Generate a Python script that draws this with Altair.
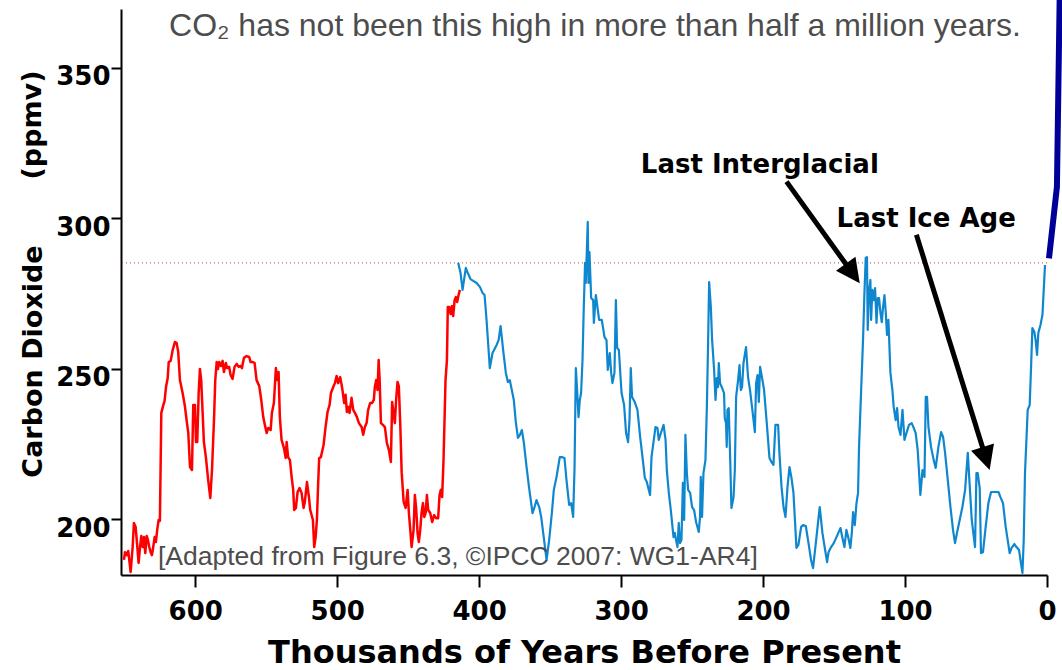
import altair as alt
import pandas as pd
import numpy as np

# ---- EPICA Dome C record (older part), thousands of years BP / ppmv ----
red_kyr = [650.2, 649.5, 648.3, 647.2, 645.5, 644.1, 643.2, 642.0, 640.8, 639.9, 638.9, 638.0,
           637.0, 636.1, 635.2, 634.2, 633.3, 632.4, 631.4, 630.5, 629.6, 628.6, 627.7, 626.8,
           625.8, 624.9, 623.9, 622.5, 621.6, 620.6, 619.4, 618.7, 617.3, 615.9, 614.3, 613.1,
           612.0, 610.8, 608.9, 607.3, 606.1, 604.9, 603.7, 602.3, 601.4, 600.2, 599.5, 598.6,
           597.6, 596.7, 595.8, 594.8, 593.9, 592.5, 590.9, 589.4, 588.2, 586.8, 585.9, 584.9,
           584.0, 583.1, 581.9, 580.7, 579.8, 578.4, 577.5, 576.1, 575.1, 573.7, 572.3, 570.8,
           569.4, 568.0, 567.1, 565.7, 563.8, 562.0, 561.0, 559.6, 558.2, 556.8, 554.9, 553.5,
           552.1, 551.1, 549.7, 548.6, 546.9, 546.0, 544.6, 543.2, 542.3, 541.3, 540.4, 539.2,
           537.5, 536.3, 535.6, 534.6, 533.3, 532.1, 531.0, 530.3, 529.1, 527.9, 526.5, 525.1,
           523.7, 522.8, 521.3, 519.9, 519.0, 517.1, 516.2, 515.2, 514.3, 513.4, 512.7, 511.5,
           509.6, 508.2, 506.8, 505.4, 504.4, 502.8, 501.6, 500.4, 499.3, 497.9, 496.5, 495.1,
           494.1, 493.2, 492.3, 491.3, 489.9, 488.7, 487.5, 486.1, 484.7, 482.8, 481.7, 480.5,
           479.3, 478.2, 476.8, 475.4, 474.2, 473.5, 472.5, 471.6, 470.8, 470.1, 469.2, 467.8,
           466.4, 465.0, 463.6, 462.2, 461.3, 460.3, 459.4, 458.5, 457.5, 456.6, 455.6, 454.6,
           453.2, 451.8, 450.4, 449.5, 448.6, 447.6, 446.2, 445.3, 444.4, 443.4, 442.5, 441.5,
           440.6, 439.6, 438.7, 437.7, 436.8, 435.9, 434.5, 433.1, 431.7, 430.3, 428.9, 427.9,
           427.0, 426.1, 425.1, 423.7, 422.7, 422.1, 421.1, 420.1, 419.2, 418.3, 417.3, 416.4,
           415.5, 414.5, 413.6]
red_ppm = [186.4, 189.0, 188.0, 189.4, 182.4, 190.7, 198.7, 197.4, 190.7, 185.4, 190.7, 194.4,
           190.7, 194.0, 188.7, 194.4, 193.0, 190.7, 189.0, 188.0, 190.7, 194.0, 192.4, 196.4,
           199.7, 199.4, 235.3, 237.9, 239.3, 243.9, 246.9, 252.2, 252.6, 256.2, 258.9, 258.5,
           255.6, 246.2, 241.9, 237.6, 232.9, 228.6, 217.3, 216.3, 237.9, 237.9, 225.6, 225.6,
           241.9, 249.9, 246.2, 235.3, 225.6, 220.6, 213.0, 207.0, 216.3, 232.9, 246.2, 252.2,
           249.9, 252.2, 250.9, 252.6, 248.9, 251.9, 250.2, 250.6, 247.9, 246.6, 250.6, 251.6,
           250.6, 250.9, 250.2, 253.6, 254.2, 253.9, 252.2, 252.2, 251.9, 246.2, 244.2, 239.6,
           233.9, 231.6, 228.6, 230.3, 229.6, 235.3, 238.6, 250.2, 246.2, 248.9, 233.9, 226.3,
           223.6, 220.3, 225.6, 220.6, 219.6, 214.0, 209.7, 203.0, 203.7, 209.0, 210.3, 208.7,
           203.7, 205.7, 212.3, 207.3, 203.0, 199.7, 190.7, 194.0, 199.7, 212.0, 220.3, 220.6,
           224.6, 230.6, 235.6, 237.9, 241.9, 243.9, 245.2, 247.6, 245.2, 247.2, 243.6, 238.6,
           241.3, 235.6, 237.3, 235.3, 240.3, 236.3, 235.3, 233.9, 231.9, 230.6, 228.0, 230.6,
           231.9, 236.3, 238.6, 238.6, 239.6, 243.9, 246.2, 242.9, 252.9, 246.2, 231.9, 231.3,
           230.6, 225.3, 223.0, 219.0, 238.9, 235.3, 231.9, 239.6, 245.6, 244.2, 231.9, 215.6,
           205.7, 203.7, 209.7, 202.0, 197.0, 190.7, 196.4, 208.0, 203.7, 195.4, 192.4, 196.4,
           202.0, 205.3, 200.7, 202.0, 208.0, 203.0, 202.0, 199.0, 201.3, 200.3, 200.3, 208.0,
           209.7, 207.3, 219.6, 246.2, 252.9, 270.5, 270.5, 268.2, 270.8, 267.5, 272.8, 273.8,
           272.2, 274.5, 276.2]

# ---- Vostok record, thousands of years BP / ppmv ----
blue_kyr = [414.8, 413.1, 411.7, 409.4, 408.0, 406.1, 404.2, 401.8, 399.5, 397.6, 396.2, 394.8,
            392.5, 390.6, 387.7, 386.3, 384.9, 383.1, 381.2, 379.8, 378.4, 377.0, 375.6, 374.2,
            372.7, 371.3, 369.9, 368.5, 366.6, 364.8, 362.4, 361.0, 359.6, 357.7, 356.3, 354.9,
            352.5, 350.7, 348.8, 347.4, 345.5, 343.2, 341.8, 339.9, 338.5, 336.6, 335.2, 333.8,
            332.8, 331.9, 331.0, 330.0, 329.1, 328.2, 327.2, 326.3, 325.4, 324.9, 323.5, 323.0,
            322.3, 321.1, 319.7, 319.2, 317.8, 315.5, 313.6, 311.7, 310.3, 309.4, 308.0, 307.0,
            306.1, 304.7, 303.7, 302.8, 301.6, 299.7, 297.9, 296.5, 295.1, 294.1, 293.2, 292.3,
            290.4, 288.5, 286.6, 284.7, 283.3, 281.9, 280.5, 279.6, 278.6, 277.2, 275.8, 274.4,
            273.5, 272.0, 270.1, 268.7, 267.8, 266.4, 265.0, 264.1, 263.1, 262.2, 261.3, 260.3,
            259.4, 258.5, 257.5, 256.5, 255.6, 254.7, 253.7, 252.8, 251.4, 250.0, 248.6, 247.2,
            245.3, 244.4, 243.9, 243.0, 242.0, 240.6, 239.6, 238.7, 238.0, 236.8, 235.9, 234.5,
            233.5, 232.6, 231.7, 231.2, 230.3, 228.9, 227.5, 227.0, 226.1, 225.6, 225.1, 224.2,
            223.2, 222.3, 220.8, 219.9, 219.0, 217.6, 216.6, 215.7, 214.8, 213.8, 212.0, 210.6,
            209.2, 207.3, 205.8, 204.9, 203.9, 203.0, 202.1, 200.7, 199.3, 197.4, 195.5, 194.1,
            192.7, 191.3, 189.4, 188.5, 187.0, 185.6, 184.2, 182.8, 181.4, 180.0, 178.6, 176.5,
            175.1, 173.2, 171.8, 169.9, 168.0, 166.2, 164.8, 162.4, 160.1, 158.2, 156.3, 154.9,
            153.9, 152.1, 150.2, 148.3, 145.5, 144.1, 142.7, 141.3, 139.9, 138.5, 137.5, 136.6,
            135.4, 134.2, 133.1, 132.4, 131.0, 129.6, 128.6, 127.7, 126.8, 126.3, 125.4, 124.4,
            123.9, 123.0, 122.0, 121.1, 120.1, 119.2, 118.3, 117.3, 116.4, 115.5, 114.5, 113.6,
            112.7, 111.7, 111.3, 110.3, 108.9, 108.0, 106.6, 105.6, 104.6, 103.2, 101.8, 100.4,
            99.0, 97.2, 95.3, 93.9, 92.5, 91.1, 90.1, 89.2, 87.7, 86.3, 85.4, 84.5,
            83.5, 81.7, 79.8, 78.4, 76.5, 74.6, 73.2, 71.8, 69.9, 68.0, 66.2, 64.8,
            63.4, 61.5, 59.6, 57.7, 55.8, 54.4, 53.0, 50.7, 49.7, 48.8, 47.4, 46.5,
            45.1, 43.2, 41.3, 39.4, 37.0, 34.2, 32.8, 31.0, 29.1, 26.3, 24.9, 23.0,
            21.5, 19.7, 18.7, 17.3, 16.4, 15.5, 13.6, 12.2, 11.3, 10.3, 8.9, 8.0,
            7.0, 6.1, 4.6, 3.2, 2.3, 1.4]
blue_ppm = [285.2, 281.8, 276.2, 283.5, 281.8, 279.8, 279.2, 278.5, 277.2, 275.2, 274.5, 266.2,
            250.2, 255.2, 257.9, 259.5, 264.2, 256.2, 248.6, 245.6, 246.2, 242.9, 239.6, 232.3,
            227.0, 228.0, 229.6, 225.3, 217.3, 210.3, 202.0, 204.0, 206.3, 204.0, 200.7, 195.4,
            186.4, 193.0, 202.0, 209.7, 214.0, 220.6, 220.6, 220.3, 213.0, 204.7, 205.3, 200.7,
            217.3, 250.2, 242.9, 233.9, 239.6, 241.9, 252.9, 270.5, 285.2, 278.5, 298.8, 278.5,
            288.8, 273.5, 272.8, 265.2, 274.5, 266.2, 266.2, 260.5, 259.5, 249.6, 255.2, 248.6,
            245.2, 248.6, 272.8, 256.9, 256.2, 241.9, 237.9, 228.6, 225.6, 232.9, 250.2, 240.6,
            238.9, 236.3, 227.3, 219.6, 213.7, 212.3, 209.7, 208.0, 220.6, 225.6, 230.6, 230.3,
            226.3, 228.6, 231.3, 226.3, 216.3, 208.7, 203.0, 198.7, 194.0, 195.4, 193.0, 190.7,
            198.7, 192.0, 193.0, 212.0, 199.7, 228.0, 215.3, 209.7, 208.7, 204.0, 203.0, 199.0,
            195.7, 200.7, 214.0, 200.7, 215.3, 219.6, 237.3, 259.5, 278.8, 270.5, 259.5, 249.6,
            239.6, 246.9, 243.9, 251.9, 245.2, 243.6, 241.9, 233.6, 231.9, 224.0, 236.3, 236.9,
            220.6, 203.7, 207.3, 216.3, 240.6, 246.2, 251.2, 242.9, 243.9, 251.9, 257.2, 247.2,
            242.9, 235.3, 228.9, 245.2, 247.9, 238.9, 250.6, 246.9, 242.9, 231.9, 220.3, 219.0,
            218.0, 231.3, 231.3, 222.0, 210.7, 204.0, 200.7, 210.7, 217.3, 213.7, 208.7, 190.4,
            191.4, 197.4, 198.0, 197.7, 192.0, 186.4, 183.7, 194.0, 204.0, 195.4, 189.7, 185.7,
            189.0, 190.7, 192.0, 194.0, 197.0, 193.7, 190.7, 196.4, 193.7, 190.4, 195.4, 202.3,
            198.0, 205.3, 208.7, 224.0, 241.9, 259.5, 275.2, 286.8, 287.1, 262.9, 275.5, 279.5,
            266.2, 276.2, 272.8, 276.8, 265.2, 273.5, 273.5, 268.5, 265.5, 270.5, 274.5, 268.9,
            261.2, 266.2, 261.2, 248.6, 242.9, 237.3, 232.9, 236.9, 230.6, 228.0, 236.3, 226.3,
            228.6, 231.3, 231.9, 230.3, 228.6, 223.0, 215.3, 208.0, 216.3, 214.0, 240.6, 240.6,
            230.6, 224.0, 219.6, 217.0, 224.0, 228.9, 227.3, 222.0, 213.0, 204.0, 196.4, 192.0,
            195.4, 199.7, 204.0, 209.7, 222.0, 210.7, 199.7, 190.7, 215.3, 215.3, 210.3, 188.7,
            189.0, 197.4, 205.3, 209.0, 209.0, 209.0, 207.3, 205.3, 197.4, 188.7, 190.4, 191.7,
            190.7, 189.7, 186.4, 182.1, 193.0, 215.3, 236.3, 237.9, 249.6, 263.5, 262.2, 259.5,
            254.6, 261.9, 264.5, 267.9, 276.2, 284.5]

# ---- Modern instrumental rise (runs past 0 into the present) ----
modern_kyr = [-1.4, -7.0, -8.9]
modern_ppm = [286.7, 310.5, 372.6]

# pre-industrial reference level
ref_ppm = [285.2]

# ---- annotations ----
note_text = ["Last Interglacial", "Last Ice Age"]
note_kyr = [202.3, 85.1]
note_ppm = [317.7, 299.8]

arrow_tail_kyr = [183.5, 92.0]
arrow_tail_ppm = [312.2, 294.5]
arrow_tip_kyr = [131.9, 40.4]
arrow_tip_ppm = [278.4, 216.3]

title_text = "CO\u2082 has not been this high in more than half a million years."
source_text = "[Adapted from Figure 6.3, \u00a9IPCC 2007: WG1-AR4]"

x_ticks = [0, 100, 200, 300, 400, 500, 600]
y_ticks = [200, 250, 300, 350]

# ---- geometry ----
W, H = 926, 566
X_MAX = 652.3
Y_MIN, Y_MAX = 181.4, 369.6

BOLD = "DejaVu Sans"
PLAIN = "Liberation Sans"
GREY = "#4d4d4d"

xscale = alt.Scale(domain=[0, X_MAX], reverse=True, nice=False, zero=False)
yscale = alt.Scale(domain=[Y_MIN, Y_MAX], nice=False, zero=False)

xaxis = alt.Axis(values=x_ticks, format="d", title="Thousands of Years Before Present",
                 grid=False, labelFlush=False, labelOverlap=False,
                 labelFont=BOLD, labelFontWeight="bold", labelFontSize=26, labelColor="black",
                 labelPadding=11, tickSize=12, tickWidth=2, tickColor="black",
                 domainColor="black", domainWidth=2,
                 titleFont=BOLD, titleFontWeight="bold", titleFontSize=32, titleColor="black",
                 titleBaseline="alphabetic", titleY=87)
yaxis = alt.Axis(values=y_ticks, format="d", title="Carbon Dioxide",
                 grid=False, labelFont=BOLD, labelFontWeight="bold", labelFontSize=26,
                 labelColor="black", labelOffset=9, labelPadding=1,
                 tickSize=10, tickWidth=2, tickColor="black",
                 domainColor="black", domainWidth=2,
                 titleFont=BOLD, titleFontWeight="bold", titleFontSize=27, titleColor="black",
                 titleAngle=270, titleAlign="center", titleBaseline="middle",
                 titleX=-88, titleY=352)


def X(field="kyr"):
    return alt.X(f"{field}:Q", scale=xscale, axis=xaxis)


def Y(field="ppm"):
    return alt.Y(f"{field}:Q", scale=yscale, axis=yaxis)


def series(k, p):
    return pd.DataFrame({"kyr": k, "ppm": p, "i": np.arange(len(k))})


red_df = series(red_kyr, red_ppm)
blue_df = series(blue_kyr, blue_ppm)
modern_df = series(modern_kyr, modern_ppm)

# pixel helpers for arrow geometry
def px(k):
    return (X_MAX - k) / X_MAX * W


def py(p):
    return (Y_MAX - p) / (Y_MAX - Y_MIN) * H


HEAD = 24.0
rows = []
for tk, tp, hk, hp in zip(arrow_tail_kyr, arrow_tail_ppm, arrow_tip_kyr, arrow_tip_ppm):
    dx, dy = px(hk) - px(tk), py(hp) - py(tp)
    L = np.hypot(dx, dy)
    ux, uy = dx / L, dy / L
    # shaft stops where the head begins
    ex, ey = px(hk) - ux * (HEAD - 4), py(hp) - uy * (HEAD - 4)
    ek = X_MAX - ex / W * X_MAX
    ep = Y_MAX - ey / H * (Y_MAX - Y_MIN)
    ang = float(np.degrees(np.arctan2(ux, -uy)) % 360)
    rows.append({"kyr": tk, "ppm": tp, "kyr2": ek, "ppm2": ep,
                 "tipk": hk, "tipp": hp, "ang": ang})
arrow_df = pd.DataFrame(rows)

ref = alt.Chart(pd.DataFrame({"ppm": ref_ppm})).mark_rule(
    color="#b83030", strokeWidth=1.3, strokeDash=[1, 3], opacity=0.75
).encode(y=Y())

red = alt.Chart(red_df).mark_line(color="#ff0000", strokeWidth=2.5, strokeJoin="round").encode(
    x=X(), y=Y(), order="i:Q")
blue = alt.Chart(blue_df).mark_line(color="#0f87cf", strokeWidth=2.2, strokeJoin="round").encode(
    x=X(), y=Y(), order="i:Q")
modern = alt.Chart(modern_df).mark_line(color="#000099", strokeWidth=6, clip=False).encode(
    x=X(), y=Y(), order="i:Q")

shafts = alt.Chart(arrow_df).mark_rule(color="black", strokeWidth=5).encode(
    x=X(), y=Y(), x2="kyr2:Q", y2="ppm2:Q")
heads = alt.Chart(arrow_df).mark_point(
    shape="M0,0 L0.5,1 L-0.5,1 Z", filled=True, fill="black", color="black",
    size=(2 * HEAD) ** 2, opacity=1, strokeWidth=0
).encode(x=X("tipk"), y=Y("tipp"), angle=alt.Angle("ang:Q", scale=None))

notes = alt.Chart(pd.DataFrame({"t": note_text, "kyr": note_kyr, "ppm": note_ppm})).mark_text(
    font=BOLD, fontWeight="bold", fontSize=26, color="black", align="center", baseline="middle"
).encode(x=X(), y=Y(), text="t:N")

title = alt.Chart(pd.DataFrame({"t": [title_text]})).mark_text(
    font=PLAIN, fontSize=32, color=GREY, align="center", baseline="middle"
).encode(x=alt.value(474), y=alt.value(17), text="t:N")

source = alt.Chart(pd.DataFrame({"t": [source_text]})).mark_text(
    font=PLAIN, fontSize=26.5, color=GREY, align="left", baseline="middle"
).encode(x=alt.value(37), y=alt.value(548), text="t:N")

unit = alt.Chart(pd.DataFrame({"t": ["(ppmv)"]})).mark_text(
    font=BOLD, fontWeight="bold", fontSize=27, color="black", align="center",
    baseline="middle", angle=270
).encode(x=alt.value(-88), y=alt.value(116), text="t:N")

chart = alt.layer(ref, red, blue, modern, shafts, heads, notes, title, source, unit).properties(
    width=W, height=H,
    padding={"left": 121, "top": 9, "right": 15, "bottom": 95},
    autosize=alt.AutoSizeParams(type="none"),
    background="white",
).configure_view(stroke=None)

chart.save("out.html", embed_options={"renderer": "svg", "actions": False})
